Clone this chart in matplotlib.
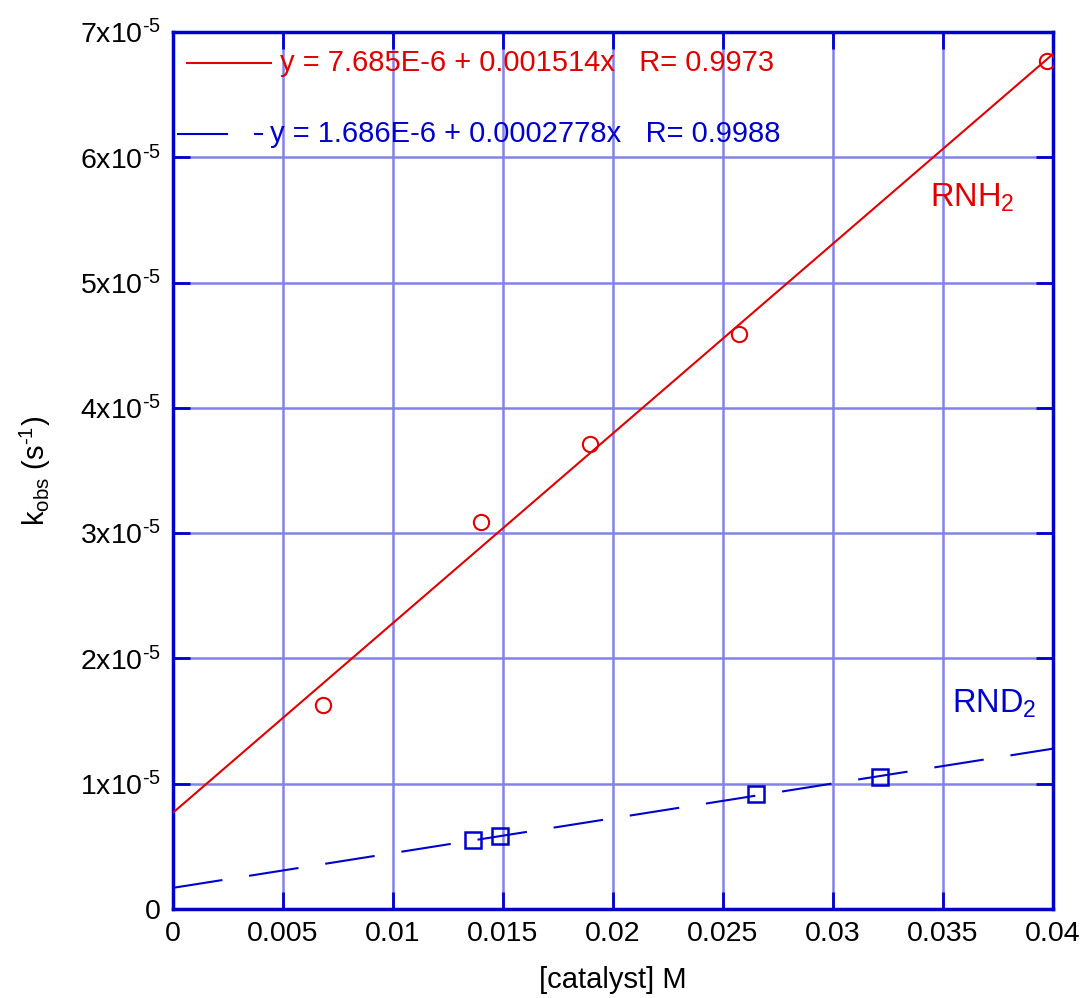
import matplotlib
matplotlib.use("Agg")
import matplotlib.pyplot as plt
import numpy as np

plt.rcParams["font.family"] = ["Liberation Sans", "DejaVu Sans"]
plt.rcParams["mathtext.fontset"] = "custom"
plt.rcParams["mathtext.rm"] = "Liberation Sans"
plt.rcParams["mathtext.it"] = "Liberation Sans"

HYPHEN = "\u2010"

# RNH2 data (circles)
rnh2_x = [0.00682, 0.0140, 0.01895, 0.02573, 0.03973]
rnh2_y = [1.628e-5, 3.089e-5, 3.711e-5, 4.589e-5, 6.768e-5]
# RND2 data (squares)
rnd2_x = [0.01364, 0.01486, 0.0265, 0.03214]
rnd2_y = [0.550e-5, 0.583e-5, 0.918e-5, 1.053e-5]

# linear fits as printed in the legend
rnh2_fit = (7.685e-6, 0.001514)
rnd2_fit = (1.686e-6, 0.0002778)
fit_x = [0.0, 0.04]

xticks = [0, 0.005, 0.01, 0.015, 0.02, 0.025, 0.03, 0.035, 0.04]
xtick_labels = ["0", "0.005", "0.01", "0.015", "0.02", "0.025", "0.03", "0.035", "0.04"]
yticks = [0, 1e-5, 2e-5, 3e-5, 4e-5, 5e-5, 6e-5, 7e-5]
ytick_labels = ["0"] + ["$%d\\mathrm{x}10^{%s5}$" % (i, HYPHEN) for i in range(1, 8)]

red = "#e00000"
blue = "#0000cc"

fig = plt.figure(figsize=(10.83, 9.98), dpi=100)
ax = fig.add_axes([0.1597, 0.0892, 0.8126, 0.8787])

fx = np.array(fit_x)
ax.plot(fx, rnh2_fit[0] + rnh2_fit[1] * fx, color=red, lw=1.5, zorder=3)
ax.plot(fx, rnd2_fit[0] + rnd2_fit[1] * fx, color=blue, lw=1.5,
        ls=(0, (24, 13)), zorder=3)
ax.plot(rnh2_x, rnh2_y, "o", ms=11, mfc="none", mec=red, mew=1.5, zorder=4)
ax.plot(rnd2_x, rnd2_y, "s", ms=11, mfc="none", mec=blue, mew=1.8, zorder=4)

ax.set_xlim(0, 0.04)
ax.set_ylim(0, 7e-5)
ax.set_xticks(xticks)
ax.set_xticklabels(xtick_labels)
ax.set_yticks(yticks)
ax.set_yticklabels(ytick_labels)
ax.tick_params(direction="in", length=12, width=2, color=blue, labelsize=20.5,
               top=True, right=True, pad=9)
ax.grid(True, color="#8282e8", lw=1.8, zorder=1)
for s in ax.spines.values():
    s.set_color(blue)
    s.set_linewidth(2.5)

ax.set_xlabel("[catalyst] M", fontsize=21, labelpad=13)
ax.set_ylabel("k$_{\\mathrm{obs}}$ (s$^{%s1}$)" % HYPHEN, fontsize=21, labelpad=19)

# legend-like fit equations
ax.plot([0.00064, 0.00445], [6.755e-5, 6.755e-5], color=red, lw=1.5,
        zorder=5)
ax.text(0.00485, 6.755e-5, "y = 7.685E-6 + 0.001514x   R= 0.9973",
        color=red, fontsize=21, va="center", ha="left")
ax.plot([0.00023, 0.00245], [6.185e-5, 6.185e-5], color=blue, lw=1.5, zorder=5)
ax.plot([0.00373, 0.00405], [6.185e-5, 6.185e-5], color=blue, lw=1.5, zorder=5)
ax.text(0.00441, 6.185e-5, "y = 1.686E-6 + 0.0002778x   R= 0.9988",
        color=blue, fontsize=21, va="center", ha="left")

ax.text(0.03441, 5.61e-5, r"RNH$_2$", color=red, fontsize=23.5, ha="left",
        va="baseline")
ax.text(0.03541, 1.564e-5, r"RND$_2$", color=blue, fontsize=23.5, ha="left",
        va="baseline")

fig.savefig("out.png", dpi=100)
